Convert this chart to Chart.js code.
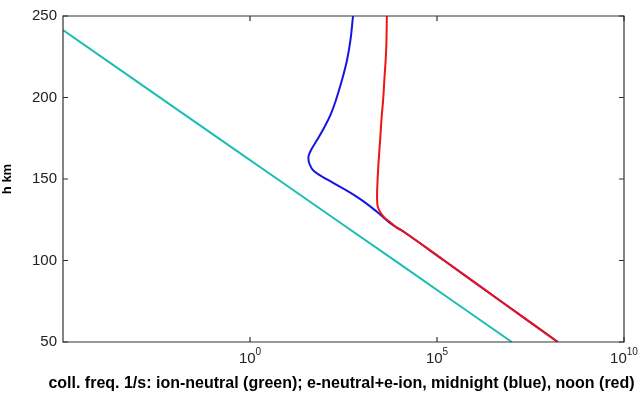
<!DOCTYPE html>
<html>
<head>
<meta charset="utf-8">
<script src="https://cdn.jsdelivr.net/npm/chart.js@4/dist/chart.umd.min.js"></script>
<style>
  html, body { margin: 0; padding: 0; background: #fff; }
  #c { display: block; }
</style>
</head>
<body>
<canvas id="c" width="640" height="397"></canvas>
<script>
// ---- data ----
// ion-neutral collision frequency (green/cyan)
const ionNeutralH    = [241.4, 193.5, 145.7, 97.9, 50];
const ionNeutralFreq = [1e-5, 1e-2, 1e1, 1e4, 1e7];

// e-neutral + e-ion, midnight (blue)
const midnightH    = [250, 235.3, 223, 210.7, 198.5, 189.3, 181.3, 173.9, 167.8, 163.5, 159.2, 154.9, 149.4, 139, 129.8, 123, 117.5, 100, 75, 50];
const midnightFreq = [568, 486, 393, 288, 199, 142, 95, 62, 43, 36.6, 39, 51, 122, 724, 2510, 5500, 1.32e4, 1.55e5, 5.1e6, 1.7e8];

// e-neutral + e-ion, noon (red)
const noonH    = [250, 229, 210, 198.5, 188, 174, 157.5, 143, 137, 132.8, 129, 126, 123.6, 120, 117.5, 100, 75, 50];
const noonFreq = [4570, 4370, 3890, 3630, 3310, 3020, 2690, 2510, 2510, 2630, 3160, 4070, 5500, 8510, 1.32e4, 1.55e5, 5.1e6, 1.7e8];

// axis ticks
const xTickValues = [1, 1e5, 1e10];
const xTickBase = '10';
const xTickExponents = ['0', '5', '10'];
const yTickValues = [50, 100, 150, 200, 250];

const xTitle = 'coll. freq. 1/s: ion-neutral (green); e-neutral+e-ion, midnight (blue), noon (red)';
const yTitle = 'h km';

const FONT = 'Liberation Sans, Arial, sans-serif';

function pts(xs, ys) { return xs.map((v, i) => ({ x: v, y: ys[i] })); }

const frame = {
  id: 'frame',
  afterDatasetsDraw(chart) {
    const { ctx, chartArea: { left, right, top, bottom }, scales: { x, y } } = chart;
    ctx.save();
    ctx.strokeStyle = '#333';
    ctx.lineWidth = 1.2;
    ctx.beginPath();
    ctx.rect(left, top, right - left, bottom - top);
    ctx.stroke();
    const L = 5;
    ctx.beginPath();
    x.ticks.forEach(t => {
      const px = x.getPixelForValue(t.value);
      ctx.moveTo(px, bottom); ctx.lineTo(px, bottom - L);
      ctx.moveTo(px, top); ctx.lineTo(px, top + L);
    });
    y.ticks.forEach(t => {
      const py = y.getPixelForValue(t.value);
      ctx.moveTo(left, py); ctx.lineTo(left + L, py);
      ctx.moveTo(right, py); ctx.lineTo(right - L, py);
    });
    ctx.stroke();

    // x tick labels: 10 with a raised exponent
    ctx.fillStyle = '#222';
    ctx.textAlign = 'left';
    ctx.textBaseline = 'alphabetic';
    x.ticks.forEach(t => {
      const i = xTickValues.indexOf(t.value);
      if (i < 0) return;
      const px = x.getPixelForValue(t.value);
      ctx.font = '15px ' + FONT;
      const wb = ctx.measureText(xTickBase).width;
      ctx.font = '10px ' + FONT;
      const we = ctx.measureText(xTickExponents[i]).width;
      const start = px - (wb + we) / 2;
      ctx.font = '15px ' + FONT;
      ctx.fillText(xTickBase, start, bottom + 21);
      ctx.font = '10px ' + FONT;
      ctx.fillText(xTickExponents[i], start + wb, bottom + 13);
    });

    // x axis title (drawn without width compression)
    ctx.fillStyle = '#000';
    ctx.font = 'bold 16px ' + FONT;
    ctx.textAlign = 'center';
    ctx.textBaseline = 'middle';
    ctx.fillText(xTitle, (left + right) / 2 - 2, bottom + 42);
    ctx.restore();
  }
};

const common = { showLine: true, pointRadius: 0, borderWidth: 2, tension: 0.4, fill: false };

new Chart(document.getElementById('c'), {
  type: 'scatter',
  data: {
    datasets: [
      Object.assign({ label: 'noon', data: pts(noonFreq, noonH), borderColor: '#f01414' }, common),
      Object.assign({ label: 'midnight', data: pts(midnightFreq, midnightH), borderColor: '#1414e6' }, common),
      Object.assign({ label: 'ion-neutral', data: pts(ionNeutralFreq, ionNeutralH), borderColor: '#1bbdb6' }, common)
    ]
  },
  options: {
    responsive: false,
    devicePixelRatio: 1,
    animation: false,
    layout: { padding: { top: 16, right: 16, left: 0, bottom: 0 } },
    plugins: { legend: { display: false }, tooltip: { enabled: false } },
    scales: {
      x: {
        type: 'logarithmic',
        min: 1e-5, max: 1e10,
        afterBuildTicks: s => { s.ticks = xTickValues.map(v => ({ value: v })); },
        afterFit: s => { s.height = 55; s.paddingLeft = 0; s.paddingRight = 0; },
        grid: { display: false, drawTicks: false },
        border: { display: false },
        ticks: { display: false, autoSkip: false, maxRotation: 0 },
        title: { display: false }
      },
      y: {
        type: 'linear',
        min: 50, max: 250,
        afterBuildTicks: s => { s.ticks = yTickValues.map(v => ({ value: v })); },
        afterFit: s => { s.width = 63; },
        grid: { display: false, drawTicks: false },
        border: { display: false },
        ticks: {
          padding: 6, color: '#222',
          font: { family: FONT, size: 15 }
        },
        title: {
          display: true, text: yTitle, color: '#000',
          font: { family: FONT, size: 13, weight: 'bold' },
          padding: { top: 0, bottom: 0 }
        }
      }
    }
  },
  plugins: [frame]
});
</script>
</body>
</html>
